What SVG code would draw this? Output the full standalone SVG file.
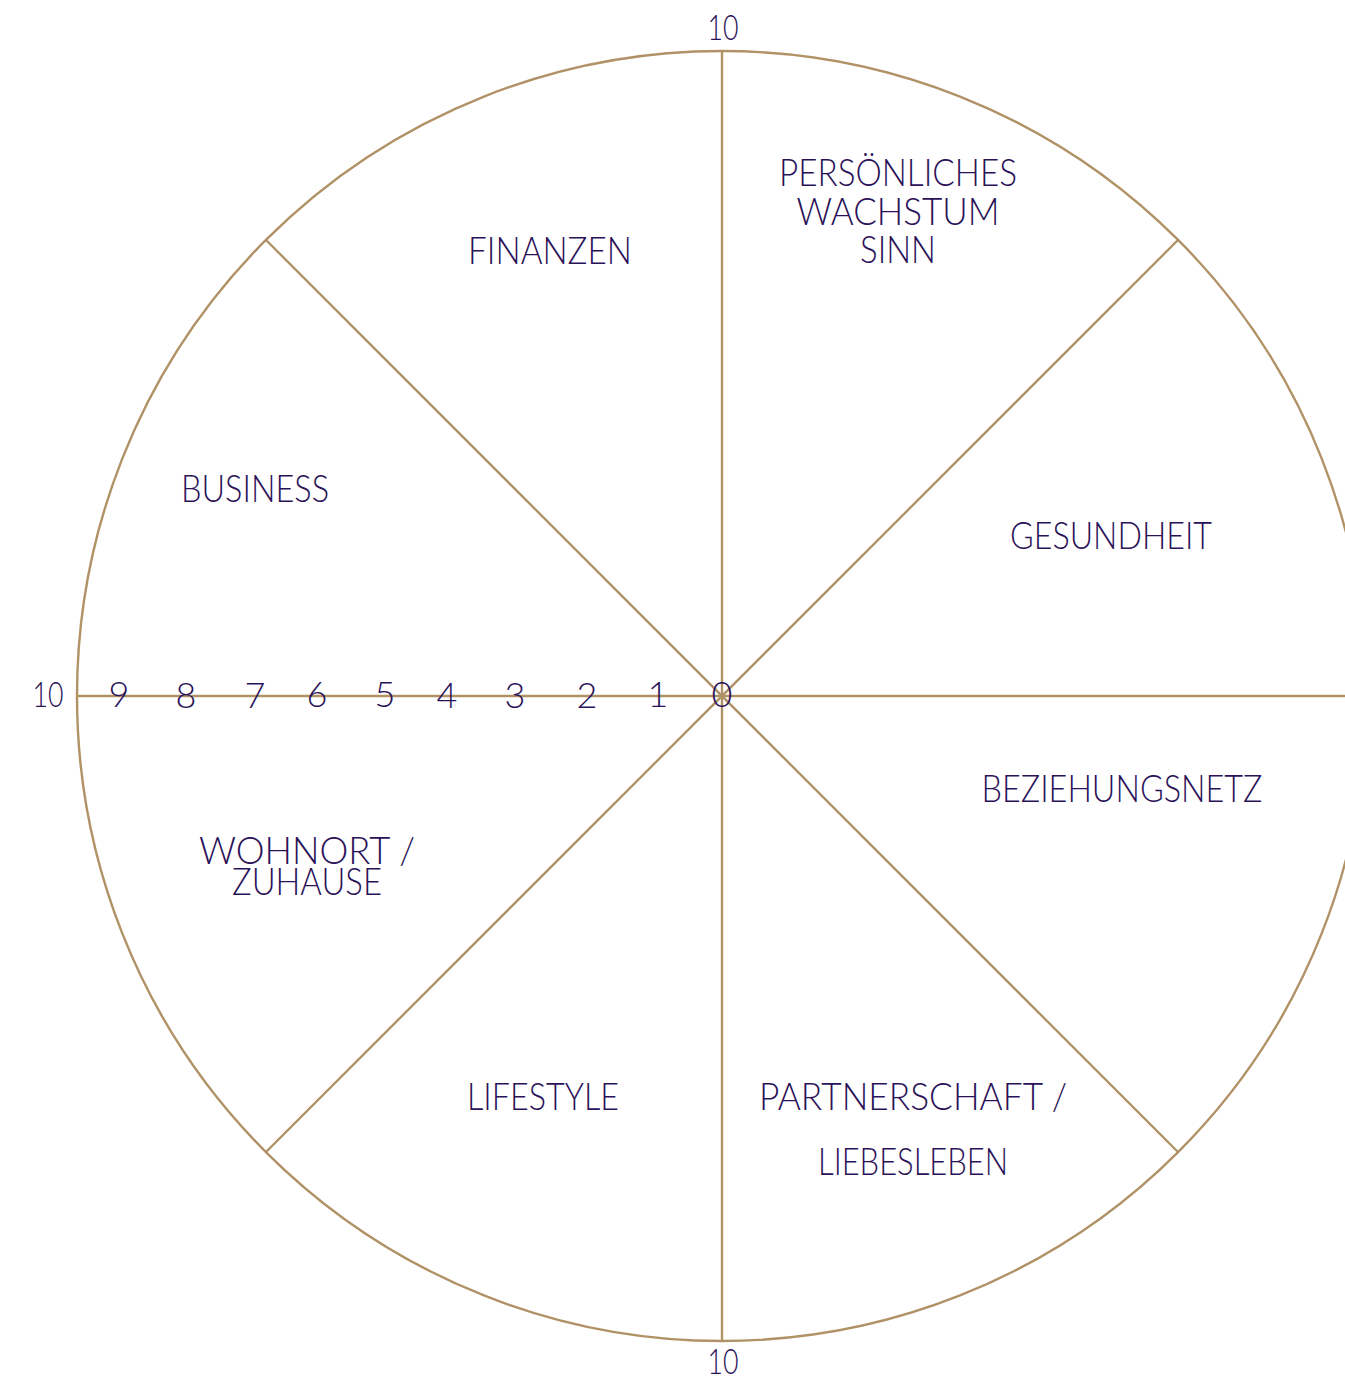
<svg xmlns="http://www.w3.org/2000/svg" width="1345" height="1379" viewBox="0 0 1345 1379">
<style>
.ln{stroke:#b09266;stroke-width:2.4;fill:none}
.t{font-family:"Lato","Open Sans","Liberation Sans",sans-serif;font-weight:300;fill:#2a1258;text-anchor:middle}
.lab{font-size:37px}
.num{font-size:36px}
</style>
<rect width="1345" height="1379" fill="#ffffff"/>
<g id="connectors">
<circle class="ln" cx="722" cy="696" r="645"/>
<line class="ln" x1="77" y1="696" x2="1367" y2="696"/>
<line class="ln" x1="722" y1="51" x2="722" y2="1341"/>
<line class="ln" x1="266" y1="240" x2="1178" y2="1152"/>
<line class="ln" x1="1178" y1="240" x2="266" y2="1152"/>
</g>
<g id="scale">
<text class="t num" x="723" y="40" textLength="31" lengthAdjust="spacingAndGlyphs">10</text>
<text class="t num" x="723" y="1374" textLength="31" lengthAdjust="spacingAndGlyphs">10</text>
<text class="t num" x="48" y="707" textLength="31" lengthAdjust="spacingAndGlyphs">10</text>
<text class="t num" x="119" y="707">9</text>
<text class="t num" x="186" y="708">8</text>
<text class="t num" x="255" y="708">7</text>
<text class="t num" x="317" y="707">6</text>
<text class="t num" x="385" y="707">5</text>
<text class="t num" x="447" y="708">4</text>
<text class="t num" x="515" y="708">3</text>
<text class="t num" x="587" y="708">2</text>
<text class="t num" x="658" y="707">1</text>
<text class="t num" x="722" y="707">0</text>
</g>
<g id="finanzen"><text class="t lab" x="550" y="264" textLength="164" lengthAdjust="spacingAndGlyphs">FINANZEN</text></g>
<g id="persoenliches-wachstum">
<text class="t lab" x="898" y="186" textLength="238" lengthAdjust="spacingAndGlyphs">PERSÖNLICHES</text>
<text class="t lab" x="898" y="225" textLength="203" lengthAdjust="spacingAndGlyphs">WACHSTUM</text>
<text class="t lab" x="898" y="263" textLength="76" lengthAdjust="spacingAndGlyphs">SINN</text>
</g>
<g id="business"><text class="t lab" x="255" y="502" textLength="148" lengthAdjust="spacingAndGlyphs">BUSINESS</text></g>
<g id="gesundheit"><text class="t lab" x="1111" y="549" textLength="202" lengthAdjust="spacingAndGlyphs">GESUNDHEIT</text></g>
<g id="beziehungsnetz"><text class="t lab" x="1122" y="802" textLength="281" lengthAdjust="spacingAndGlyphs">BEZIEHUNGSNETZ</text></g>
<g id="wohnort">
<text class="t lab" x="307" y="864" textLength="216" lengthAdjust="spacingAndGlyphs">WOHNORT /</text>
<text class="t lab" x="307" y="895" textLength="150" lengthAdjust="spacingAndGlyphs">ZUHAUSE</text>
</g>
<g id="lifestyle"><text class="t lab" x="543" y="1110" textLength="152" lengthAdjust="spacingAndGlyphs">LIFESTYLE</text></g>
<g id="partnerschaft">
<text class="t lab" x="913" y="1110" textLength="308" lengthAdjust="spacingAndGlyphs">PARTNERSCHAFT /</text>
<text class="t lab" x="913" y="1175" textLength="190" lengthAdjust="spacingAndGlyphs">LIEBESLEBEN</text>
</g>
</svg>
